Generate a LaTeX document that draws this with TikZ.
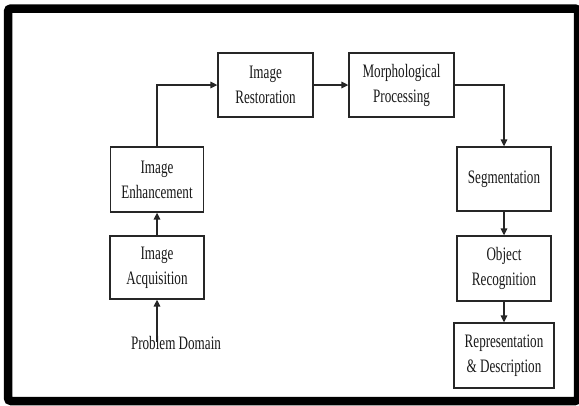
\documentclass[tikz,border=0pt]{standalone}
\usepackage{fontspec}
\setmainfont[FakeStretch=0.69]{Liberation Serif}
\usetikzlibrary{arrows.meta}
\begin{document}
\begin{tikzpicture}[x=1pt,y=-1pt,
  box/.style={draw=black!85, line width=1.3pt, inner sep=0pt, align=center,
    text=black!90, font=\fontsize{19}{25}\selectfont},
  label/.style={inner sep=3pt, text=black!90, font=\fontsize{19}{25}\selectfont},
  conn/.style={line width=1.4pt, draw=black!85, -{Triangle[length=7pt,width=6.5pt]}}]
\useasboundingbox (0,0) rectangle (579,405);
\fill[white] (0,0) rectangle (579,405);
\draw[line width=8.5pt, rounded corners=3pt] (8,8.5) rectangle (578,401);

\node[box, minimum width=95pt, minimum height=64pt] (rest) at (265.5,85) {Image\\Restoration};
\node[box, minimum width=105pt, minimum height=64pt] (morph) at (401.5,85) {Morphological\\Processing};
\node[box, minimum width=93pt, minimum height=65pt] (enh) at (157,179.5) {Image\\Enhancement};
\node[box, minimum width=94pt, minimum height=63pt] (acq) at (157,267.5) {Image\\Acquisition};
\node[box, minimum width=94pt, minimum height=64pt] (seg) at (504,179) {Segmentation};
\node[box, minimum width=94pt, minimum height=65pt] (obj) at (504,268.5) {Object\\Recognition};
\node[box, minimum width=100pt, minimum height=65pt] (rep) at (504,355.5) {Representation\\\& Description};
\node[label] (pd) at (176,343) {Problem Domain};

\draw[conn] ([yshift=-9pt]pd.north -| acq.south) -- (acq.south);
\draw[conn] (acq.north) -- (enh.south);
\draw[conn] (enh.north) |- (rest.west);
\draw[conn] (rest.east) -- (morph.west);
\draw[conn] (morph.east) -| (seg.north);
\draw[conn] (seg.south) -- (obj.north);
\draw[conn] (obj.south) -- (rep.north);
\end{tikzpicture}
\end{document}
